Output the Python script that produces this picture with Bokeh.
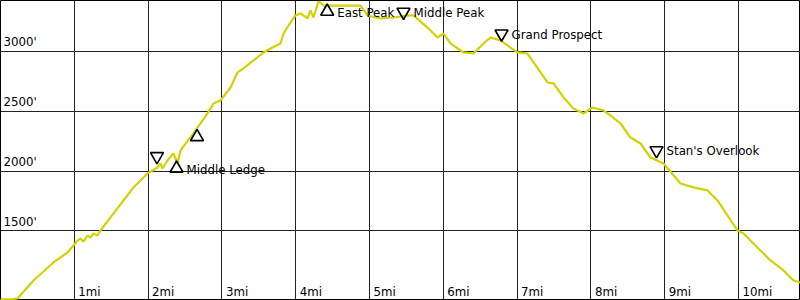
from bokeh.plotting import figure
from bokeh.models import ColumnDataSource, FixedTicker, Range1d
from bokeh.core.properties import value
from bokeh.embed import file_html
from bokeh.resources import INLINE

# Elevation profile (miles, feet)
miles = [0.0, 0.136, 0.23, 0.447, 0.718, 0.908, 0.989, 1.043, 1.084, 1.125, 1.179,
         1.22, 1.26, 1.314, 1.355,
         1.49, 1.667, 1.802, 1.992, 2.127, 2.168, 2.195, 2.263, 2.344, 2.398, 2.439,
         2.615, 2.805, 2.886, 2.981, 3.117, 3.211, 3.293, 3.428, 3.564, 3.659, 3.794,
         3.835, 3.902, 3.997, 4.065, 4.16, 4.2, 4.241, 4.309, 4.377, 4.566, 4.743,
         4.878, 4.973, 5.149, 5.325, 5.515, 5.596, 5.786, 5.921, 6.003, 6.098, 6.233,
         6.274, 6.409, 6.545, 6.64, 6.775, 6.911, 7.005,
         7.141, 7.317, 7.412, 7.493, 7.629, 7.764, 7.9, 8.022, 8.171, 8.266, 8.401,
         8.537, 8.672, 8.808, 8.984, 9.214, 9.39, 9.58, 9.715, 9.986, 10.068, 10.257,
         10.434, 10.61, 10.745, 10.84]
elevation = [928, 928, 936, 1086, 1237, 1320, 1379, 1420, 1437, 1410, 1462,
             1445, 1479, 1462, 1504,
             1613, 1755, 1864, 1981, 2031, 2064, 2022, 2089, 2148, 2064, 2173,
             2315, 2482, 2565, 2591, 2699, 2825, 2858, 2925, 2992, 3025, 3067,
             3150, 3217, 3301, 3318, 3276, 3343, 3284, 3420, 3384, 3384, 3384,
             3384, 3301, 3276, 3284, 3301, 3301, 3200, 3117, 3150, 3067, 3008,
             2992, 2983, 3067, 3117, 3092, 3033, 2992,
             2983, 2825, 2741, 2733, 2616, 2524, 2482, 2532, 2507, 2465, 2398,
             2281, 2231, 2114, 2064, 1897, 1864, 1839, 1755, 1504, 1479, 1362,
             1254, 1170, 1086, 1070]

# Waypoints
wp_miles = [2.12, 2.385, 2.663, 4.427, 5.461, 6.789, 8.889]
wp_elev = [2123, 2022, 2286, 3334, 3330, 3148, 2173]
wp_kind = ["down", "up", "up", "up", "down", "down", "down"]
wp_names = ["", "Middle Ledge", "", "East Peak", "Middle Peak", "Grand Prospect", "Stan's Overlook"]

# Axis ticks
x_ticks = [1, 2, 3, 4, 5, 6, 7, 8, 9, 10]
x_tick_labels = ["1mi", "2mi", "3mi", "4mi", "5mi", "6mi", "7mi", "8mi", "9mi", "10mi"]
y_ticks = [1500, 2000, 2500, 3000]
y_tick_labels = ["1500'", "2000'", "2500'", "3000'"]

X_MAX = 10.84
Y_MIN, Y_MAX = 919, 3426

p = figure(width=800, height=300, output_backend="svg", toolbar_location=None,
           x_range=Range1d(0, X_MAX), y_range=Range1d(Y_MIN, Y_MAX),
           min_border=0, min_border_left=0, min_border_right=0,
           min_border_top=0, min_border_bottom=0)
p.xaxis.visible = False
p.yaxis.visible = False
p.xgrid.ticker = FixedTicker(ticks=x_ticks)
p.ygrid.ticker = FixedTicker(ticks=y_ticks)
for g in (p.xgrid, p.ygrid):
    g.grid_line_color = "#222222"
    g.grid_line_width = 1
    g.grid_line_alpha = 1.0
p.outline_line_color = "#000000"
p.outline_line_width = 1
p.background_fill_color = "white"
p.border_fill_color = "white"

p.line(miles, elevation, line_color="#d2d200", line_width=2.2)

up_x = [m for m, k in zip(wp_miles, wp_kind) if k == "up"]
up_y = [e for e, k in zip(wp_elev, wp_kind) if k == "up"]
dn_x = [m for m, k in zip(wp_miles, wp_kind) if k == "down"]
dn_y = [e for e, k in zip(wp_elev, wp_kind) if k == "down"]
p.scatter(up_x, up_y, marker="triangle", size=13, fill_color=None,
          line_color="black", line_width=1.6)
p.scatter(dn_x, dn_y, marker="inverted_triangle", size=13, fill_color=None,
          line_color="black", line_width=1.6)

font = value("DejaVu Sans")
fs = "11.8px"
lab = ColumnDataSource(dict(x=wp_miles, y=wp_elev, t=wp_names))
p.text(x="x", y="y", text="t", source=lab, x_offset=10, y_offset=1,
       text_font=font, text_font_size=fs, text_align="left",
       text_baseline="middle", text_color="black")

xs = ColumnDataSource(dict(x=x_ticks, y=[Y_MIN] * len(x_ticks), t=x_tick_labels))
p.text(x="x", y="y", text="t", source=xs, x_offset=4, y_offset=-2,
       text_font=font, text_font_size=fs, text_align="left",
       text_baseline="bottom", text_color="black")

ys = ColumnDataSource(dict(x=[0] * len(y_ticks), y=y_ticks, t=y_tick_labels))
p.text(x="x", y="y", text="t", source=ys, x_offset=3, y_offset=-2,
       text_font=font, text_font_size=fs, text_align="left",
       text_baseline="bottom", text_color="black")

open("out.html", "w").write(file_html(p, INLINE))
